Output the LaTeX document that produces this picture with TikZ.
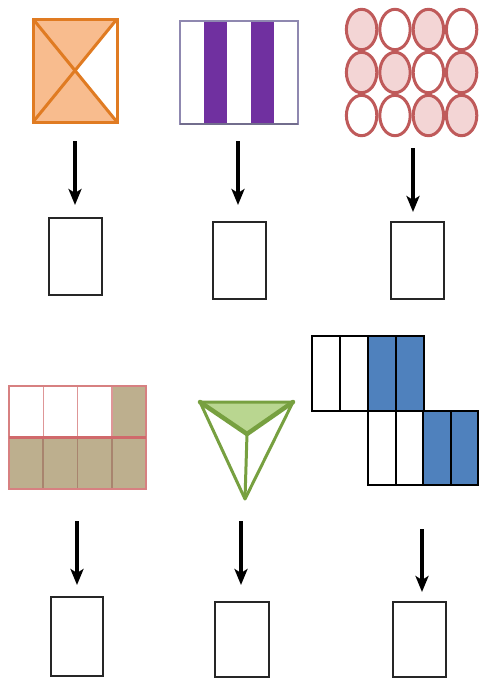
\documentclass[tikz,border=0pt]{standalone}
\usetikzlibrary{arrows.meta}
\definecolor{orS}{HTML}{E07B22}
\definecolor{orF}{HTML}{F8BC8E}
\definecolor{purp}{HTML}{7030A0}
\definecolor{purB}{HTML}{8F88B0}
\definecolor{cirS}{HTML}{BF5A5A}
\definecolor{cirF}{HTML}{F3D5D5}
\definecolor{khaki}{HTML}{BDAF8E}
\definecolor{gridS}{HTML}{D0696B}
\definecolor{gridV}{HTML}{A8846E}
\definecolor{grS}{HTML}{77A040}
\definecolor{grF}{HTML}{B9D690}
\definecolor{blu}{HTML}{4F81BD}
\tikzset{
  ansbox/.style={draw=black!85, line width=2pt, fill=white, inner sep=0pt,
                 minimum width=53pt, minimum height=77pt},
  arr/.style={line width=3.4pt, -{Stealth[length=16pt,width=13pt,inset=4pt]}},
}
\begin{document}
\begin{tikzpicture}[x=1pt,y=-1pt]
\useasboundingbox (0,0) rectangle (480,678);
\fill[white] (0,0) rectangle (480,678);

% ---- orange rectangle with diagonals
\fill[orF] (33,19) rectangle (117,122);
\fill[white] (117,19) -- (75,70.5) -- (117,122) -- cycle;
\draw[orS, line width=3pt] (33,19) rectangle (117,122);
\draw[orS, line width=3pt] (33,19) -- (117,122) (117,19) -- (33,122);

% ---- purple stripes
\fill[purp] (203.6,21) rectangle (227.2,124);
\fill[purp] (250.8,21) rectangle (274.4,124);
\draw[purB, line width=1.5pt] (180,21) rectangle (298,124);
\draw[purB!80!black, line width=2pt] (180,124) -- (298,124);

% ---- circles
\foreach \x/\y/\f in {361.6/29.5/cirF,395/29.5/white,428.4/29.5/cirF,461.6/29.5/white,
                      361.6/72.5/cirF,395/72.5/cirF,428.4/72.5/white,461.6/72.5/cirF,
                      361.6/115.5/white,395/115.5/white,428.4/115.5/cirF,461.6/115.5/cirF}{
  \path[draw=cirS, line width=3pt, fill=\f] (\x,\y) ellipse [x radius=15.2, y radius=20.2];
}

% ---- grid (fractions)
\fill[khaki] (111.75,386) rectangle (146,437);
\fill[khaki] (9,437) rectangle (146,489);
\draw[gridS!70, line width=1.5pt] (43.25,386) -- (43.25,437) (77.5,386) -- (77.5,437) (111.75,386) -- (111.75,437);
\draw[gridV, line width=1.8pt] (43.25,437) -- (43.25,489) (77.5,437) -- (77.5,489) (111.75,437) -- (111.75,489);
\draw[gridS!85, line width=1.5pt] (9,386) rectangle (146,489);
\draw[gridS, line width=3pt] (9,437) -- (146,437);

% ---- green triangle
\coordinate (tA) at (200,402);
\coordinate (tB) at (293,402);
\coordinate (tC) at (245,499);
\coordinate (tO) at (247,434);
\fill[grF] (tA) -- (tB) -- (tO) -- cycle;
\draw[grS, line width=3pt, line join=round] (tA) -- (tB) -- (tC) -- cycle;
\draw[grS, line width=4.5pt, line join=round, line cap=round] (tA) -- (tO) -- (tB);
\draw[grS, line width=3pt] (tO) -- (tC);

% ---- blue blocks
\fill[blu] (368,336) rectangle (424,411);
\fill[blu] (423,411) rectangle (478,485);
\draw[black, line width=2pt] (312,336) rectangle (424,411);
\draw[black, line width=2pt] (340,336) -- (340,411) (368,336) -- (368,411) (396,336) -- (396,411);
\draw[black, line width=2pt] (368,411) rectangle (478,485);
\draw[black, line width=2pt] (395.5,411) -- (395.5,485) (423,411) -- (423,485) (450.5,411) -- (450.5,485);

% ---- answer boxes
\node[ansbox] (b1) at (75.5,256.5) {};
\node[ansbox] (b2) at (239.5,260.5) {};
\node[ansbox] (b3) at (417.5,260.5) {};
\node[ansbox, minimum width=52pt, minimum height=79pt] (b4) at (77,636.5) {};
\node[ansbox, minimum width=54pt, minimum height=75pt] (b5) at (242,639.5) {};
\node[ansbox, minimum height=75pt] (b6) at (419.5,639.5) {};

% ---- arrow starts
\coordinate (s1) at (75,141);
\coordinate (s2) at (238,141);
\coordinate (s3) at (413,148);
\coordinate (s4) at (77,521);
\coordinate (s5) at (241,521);
\coordinate (s6) at (422,529);

\draw[arr, shorten >=12pt] (s1) -- (s1 |- b1.north);
\draw[arr, shorten >=16pt] (s2) -- (s2 |- b2.north);
\draw[arr, shorten >=9pt] (s3) -- (s3 |- b3.north);
\draw[arr, shorten >=11pt] (s4) -- (s4 |- b4.north);
\draw[arr, shorten >=16pt] (s5) -- (s5 |- b5.north);
\draw[arr, shorten >=9pt] (s6) -- (s6 |- b6.north);
\end{tikzpicture}
\end{document}
